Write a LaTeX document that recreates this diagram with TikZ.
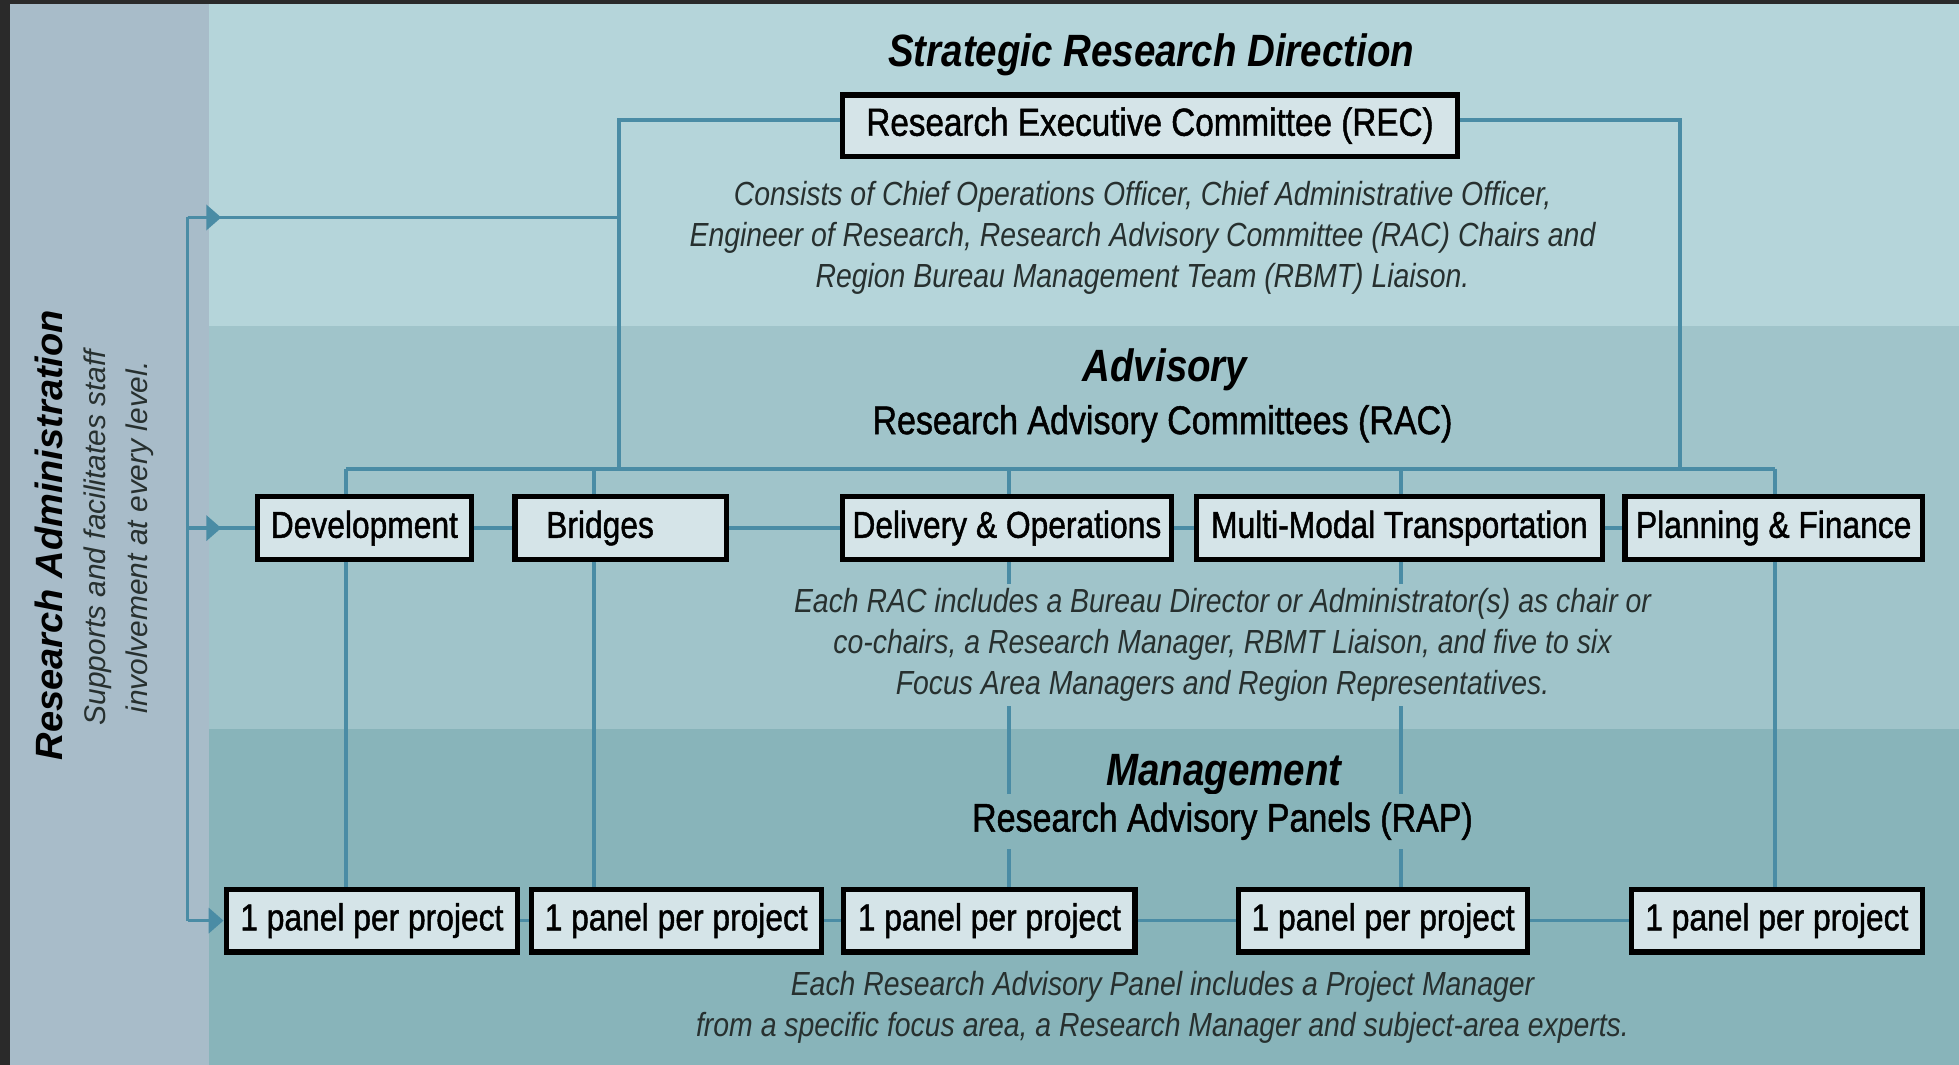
\documentclass[tikz,border=0pt]{standalone}
\usepackage{fontspec}
\setmainfont{Liberation Sans}
\newfontfamily\condfont{Liberation Sans}[FakeStretch=0.85]
\newfontfamily\boxfont{Liberation Sans}[FakeStretch=0.85,FakeBold=1.2]
\usetikzlibrary{arrows.meta}
\definecolor{framegray}{HTML}{2A2A2A}
\definecolor{adminbg}{HTML}{A8BCC9}
\definecolor{topband}{HTML}{B5D5DA}
\definecolor{midband}{HTML}{A0C4CA}
\definecolor{botband}{HTML}{88B4BA}
\definecolor{boxfill}{HTML}{D5E4E8}
\definecolor{linkblue}{HTML}{4A8CA5}
\definecolor{inkgray}{HTML}{27302F}

\begin{document}
\begin{tikzpicture}[x=0.01cm,y=-0.01cm,
    box/.style={draw=black,line width=1.2pt,fill=boxfill,minimum height=0.5cm,inner sep=1pt,
      font=\boxfont\fontsize{8.5}{10}\selectfont},
    link/.style={draw=linkblue,line width=0.85pt},
    tip/.style={link,-{Triangle[width=5.7pt,length=3.4pt]}},
    level/.style={text=black,font=\condfont\bfseries\itshape\fontsize{10.3}{12}\selectfont},
    sublevel/.style={text=black,font=\boxfont\fontsize{9.1}{11}\selectfont},
    note/.style={align=center,text=inkgray,font=\condfont\itshape\fontsize{7.6}{9.3}\selectfont}]
		\useasboundingbox (0,0) rectangle (1567.2,852);
		% background bands
		\fill[framegray] (0,0) rectangle (1567.2,852);
		\fill[adminbg] (8,3) rectangle (167,852);
		\fill[topband] (167,3) rectangle (1567.2,261);
		\fill[midband] (167,261) rectangle (1567.2,583);
		\fill[botband] (167,583) rectangle (1567.2,852);
		% research administration
		\node[rotate=90,text=black,font=\bfseries\itshape\fontsize{8.65}{10}\selectfont] (adm) at (39,428) {Research Administration};
		\node[rotate=90,align=center,text=inkgray,font=\itshape\fontsize{6.8}{9.4}\selectfont] (admnote) at (95,430) {Supports and facilitates staff\\involvement at every level.};
		% strategic level
		\node[level] (srd) at (921,44) {Strategic Research Direction};
		\node[box,minimum width=4.92cm,minimum height=0.49cm,font=\boxfont\fontsize{8.9}{11}\selectfont] (rec) at (920,100.5) {Research Executive Committee (REC)};
		\node[note] (recnote) at (914,190) {Consists of Chief Operations Officer, Chief Administrative Officer,\\Engineer of Research, Research Advisory Committee (RAC) Chairs and\\Region Bureau Management Team (RBMT) Liaison.};
		% advisory level
		\node[level] (adv) at (932,296) {Advisory};
		\node[sublevel] (rac) at (930,339) {Research Advisory Committees (RAC)};
		\node[box,minimum width=1.71cm] (dev) at (291.5,422.5) {Development};
		\node[box,minimum width=1.69cm,text width=1.19cm,inner xsep=0.25cm,align=left] (brg) at (496.5,422.5) {Bridges};
		\node[box,minimum width=2.63cm] (dlv) at (805.5,422.5) {Delivery \& Operations};
		\node[box,minimum width=3.25cm] (mmt) at (1119.5,422.5) {Multi-Modal Transportation};
		\node[box,minimum width=2.38cm] (pln) at (1419,422.5) {Planning \& Finance};
		% management level
		\node[box,minimum width=2.33cm] (p1) at (297.5,736.5) {1 panel per project};
		\node[box,minimum width=2.32cm] (p2) at (541,736.5) {1 panel per project};
		\node[box,minimum width=2.33cm] (p3) at (791.5,736.5) {1 panel per project};
		\node[box,minimum width=2.31cm] (p4) at (1106.5,736.5) {1 panel per project};
		\node[box,minimum width=2.33cm] (p5) at (1421.5,736.5) {1 panel per project};
		% connectors
		\coordinate (b1) at (277,375);
		\coordinate (b2) at (475,375);
		\coordinate (b3) at (807,375);
		\coordinate (b4) at (1121,375);
		\coordinate (b5) at (1420,375);
		\coordinate (rl) at (495,375);
		\coordinate (rr) at (1344,375);
		\coordinate (rj) at (495,174);
		\coordinate (adm1) at (150,174);
		\coordinate (adm2) at (150,422.5);
		\coordinate (adm3) at (150,736.5);
		\coordinate (t1) at (177,174);
		\coordinate (t2) at (177,422.5);
		\draw[link] ([yshift=1.3pt]rec.west) -| (rl);
		\draw[link] ([yshift=1.3pt]rec.east) -| (rr);
		\draw[link] (b1) -- (b5);
		\foreach \b/\r/\p in {b1/dev/p1,b2/brg/p2,b3/dlv/p3,b4/mmt/p4,b5/pln/p5}{
			\draw[link] (\b) -- (\b |- \r.north);
			\draw[link] (\b |- \r.south) -- (\b |- \p.north);
		}
		\foreach \u/\v in {dev/brg,brg/dlv,dlv/mmt,mmt/pln,p1/p2,p2/p3,p3/p4,p4/p5}
			\draw[link] (\u) -- (\v);
		\draw[link] (adm1) -- (adm3);
		\draw[link] (adm1) -- (rj);
		\draw[link] (adm2) -- (dev);
		\draw[tip] (adm1) -- (t1);
		\draw[tip] (adm2) -- (t2);
		\draw[tip] (adm3) -- (p1);
		% notes over the lines
		\node[note,fill=midband,inner sep=1pt] (racnote) at (978,516) {Each RAC includes a Bureau Director or Administrator(s) as chair or\\co-chairs, a Research Manager, RBMT Liaison, and five to six\\Focus Area Managers and Region Representatives.};
		\node[level] (mgmt) at (979,620) {Management};
		\node[sublevel,fill=botband,inner sep=2pt] (rap) at (978,657) {Research Advisory Panels (RAP)};
		\node[note] (rapnote) at (930,806) {Each Research Advisory Panel includes a Project Manager\\from a specific focus area, a Research Manager and subject-area experts.};
\end{tikzpicture}
\end{document}
